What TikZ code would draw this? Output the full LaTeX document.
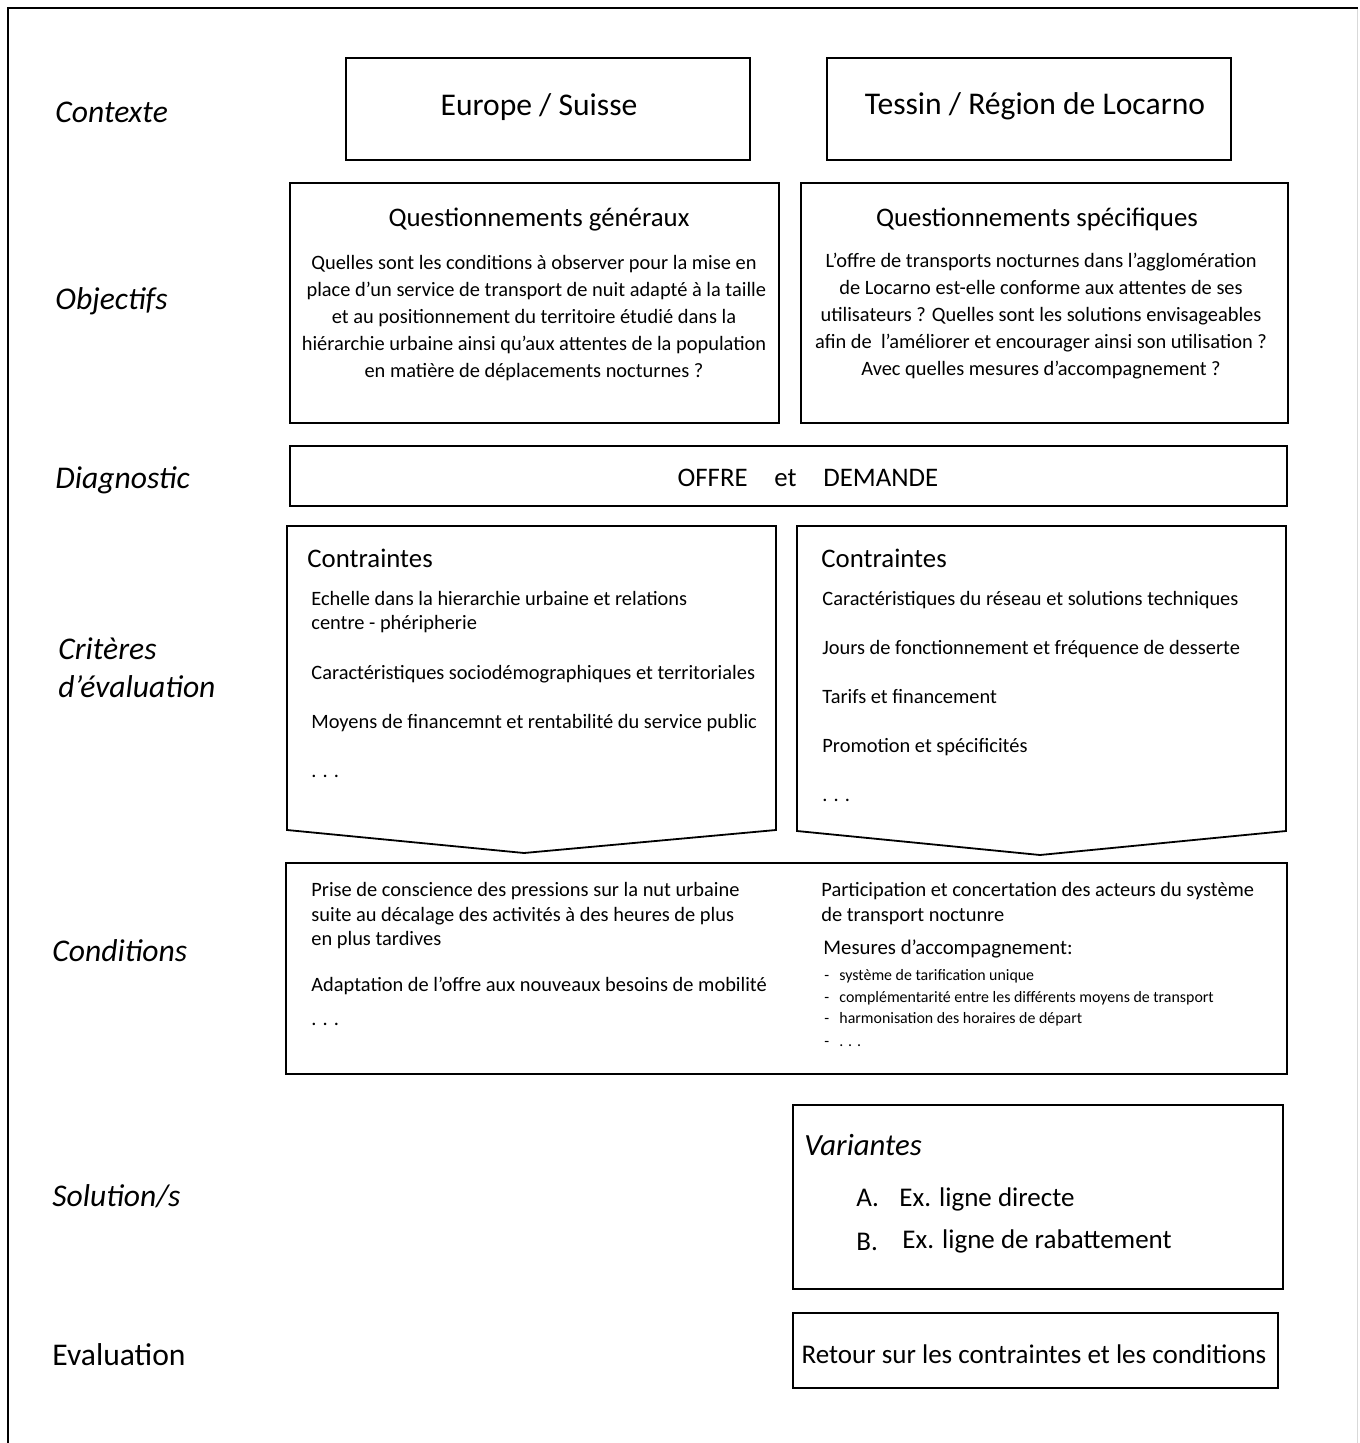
\documentclass[tikz,border=0pt]{standalone}
\usepackage{fontspec}
\setmainfont{Carlito}
\begin{document}
\begin{tikzpicture}[x=0.5pt,y=-0.5pt,
  frame/.style={draw, line width=0.9pt, inner sep=0pt},
  rowlabel/.style={anchor=base west, inner sep=0pt, font=\fontsize{15.8}{19}\selectfont\itshape},
  head/.style={anchor=base, inner sep=0pt, font=\fontsize{13.4}{16}\selectfont},
  body/.style={inner sep=0pt, align=center, font=\fontsize{10.2}{13.5}\selectfont},
  item/.style={anchor=base west, inner sep=0pt, font=\fontsize{10.2}{12}\selectfont},
  minor/.style={anchor=base west, inner sep=0pt, font=\fontsize{7.95}{10}\selectfont}]
 \useasboundingbox (0,0) rectangle (1359,1443);
 % page frame
 \draw[line width=1.4pt] (8,1443) -- (8,8) -- (1358,8);
 \draw[black!15, line width=0.5pt] (1357,9) -- (1357,1443);

 % row labels
 \node[rowlabel] (lctx) at (55,123) {Contexte};
 \node[rowlabel] (lobj) at (55,310) {Objectifs};
 \node[rowlabel] (ldiag) at (55,488) {Diagnostic};
 \node[rowlabel, align=left] (lcrit) at (58,697) {Critères\\d’évaluation};
 \node[rowlabel] (lcond) at (52,961) {Conditions};
 \node[rowlabel] (lsol) at (52,1206) {Solution/s};
 \node[rowlabel, font=\fontsize{15.8}{19}\selectfont] (leval) at (52,1365) {Evaluation};

 % contexte
 \node[frame, minimum width=202pt, minimum height=51pt] (europe) at (548,109) {};
 \node[head, font=\fontsize{15.8}{19}\selectfont] (teurope) at (539,116) {Europe / Suisse};
 \node[frame, minimum width=202pt, minimum height=51pt] (tessin) at (1029,109) {};
 \node[head, font=\fontsize{15.8}{19}\selectfont] (ttessin) at (1035,115) {Tessin / Région de Locarno};

 % objectifs
 \node[frame, minimum width=244.5pt, minimum height=120pt] (qgen) at (534.5,303) {};
 \node[head] (tqgen) at (539,227) {Questionnements généraux};
 \node[body] (bqgen) at (534,318) {Quelles sont les conditions à observer pour la mise en\\
  \ place d’un service de transport de nuit adapté à la taille\\
  et au positionnement du territoire étudié dans la\\
  hiérarchie urbaine ainsi qu’aux attentes de la population\\
  en matière de déplacements nocturnes ?};
 \node[frame, minimum width=243.5pt, minimum height=120pt] (qspec) at (1044.5,303) {};
 \node[head] (tqspec) at (1037,227) {Questionnements spécifiques};
 \node[body] (bqspec) at (1041,316) {L’offre de transports nocturnes dans l’agglomération\\
  de Locarno est-elle conforme aux attentes de ses\\
  utilisateurs ? Quelles sont les solutions envisageables\\
  afin de \ l’améliorer et encourager ainsi son utilisation ?\\
  Avec quelles mesures d’accompagnement ?};

 % diagnostic
 \node[frame, minimum width=498.5pt, minimum height=30pt] (diag) at (788.5,476) {};
 \node[head] (tdiag) at (808,486) {OFFRE\quad{}et\quad{}DEMANDE};

 % criteres
 \draw[line width=0.9pt] (287,526) -- (776,526) -- (776,830) -- (524,853) -- (287,830) -- cycle;
 \draw[line width=0.9pt] (797,526) -- (1286,526) -- (1286,831) -- (1040,855) -- (797,831) -- cycle;
 \node[head, anchor=base west] (cleft) at (307,567) {Contraintes};
 \node[item] (cl1) at (311,605) {Echelle dans la hierarchie urbaine et relations};
 \node[item] (cl2) at (311,629) {centre - phéripherie};
 \node[item] (cl3) at (311,679) {Caractéristiques sociodémographiques et territoriales};
 \node[item] (cl4) at (311,728) {Moyens de financemnt et rentabilité du service public};
 \node[item] (cl5) at (311,777) {. . .};
 \node[head, anchor=base west] (cright) at (821,567) {Contraintes};
 \node[item] (cr1) at (822,605) {Caractéristiques du réseau et solutions techniques};
 \node[item] (cr2) at (822,654) {Jours de fonctionnement et fréquence de desserte};
 \node[item] (cr3) at (822,703) {Tarifs et financement};
 \node[item] (cr4) at (822,752) {Promotion et spécificités};
 \node[item] (cr5) at (822,801) {. . .};

 % conditions
 \node[frame, minimum width=500.5pt, minimum height=105.5pt] (cond) at (786.5,968.5) {};
 \node[item] (dl1) at (311,896) {Prise de conscience des pressions sur la nut urbaine};
 \node[item] (dl2) at (311,921) {suite au décalage des activités à des heures de plus};
 \node[item] (dl3) at (311,945) {en plus tardives};
 \node[item] (dl4) at (311,991) {Adaptation de l’offre aux nouveaux besoins de mobilité};
 \node[item] (dl5) at (311,1025) {. . .};
 \node[item] (dr1) at (821,896) {Participation et concertation des acteurs du système};
 \node[item] (dr2) at (821,921) {de transport noctunre};
 \node[item, font=\fontsize{10.4}{12}\selectfont] (dr3) at (823,954) {Mesures d’accompagnement:};
 \node[minor] (m1) at (824,980) {-};
 \node[minor] (t1) at (839,980) {système de tarification unique};
 \node[minor] (m2) at (824,1002) {-};
 \node[minor] (t2) at (839,1002) {complémentarité entre les différents moyens de transport};
 \node[minor] (m3) at (824,1023) {-};
 \node[minor] (t3) at (839,1023) {harmonisation des horaires de départ};
 \node[minor] (m4) at (824,1046) {-};
 \node[minor] (t4) at (839,1046) {. . .};

 % solutions
 \node[frame, minimum width=245pt, minimum height=92pt] (var) at (1038,1197) {};
 \node[rowlabel, font=\fontsize{15.4}{19}\selectfont\itshape] (tvar) at (804,1155) {Variantes};
 \node[item, font=\fontsize{13.5}{16}\selectfont] (va) at (856,1206) {A.};
 \node[item, font=\fontsize{13.5}{16}\selectfont] (vat) at (899,1206) {Ex. ligne directe};
 \node[item, font=\fontsize{13.5}{16}\selectfont] (vb) at (856,1250) {B.};
 \node[item, font=\fontsize{13.5}{16}\selectfont] (vbt) at (902,1248) {Ex. ligne de rabattement};

 % evaluation
 \node[frame, minimum width=242.5pt, minimum height=37.5pt] (retour) at (1035.5,1350.5) {};
 \node[head, font=\fontsize{13.5}{16}\selectfont] (tretour) at (1034,1363) {Retour sur les contraintes et les conditions};
\end{tikzpicture}
\end{document}
